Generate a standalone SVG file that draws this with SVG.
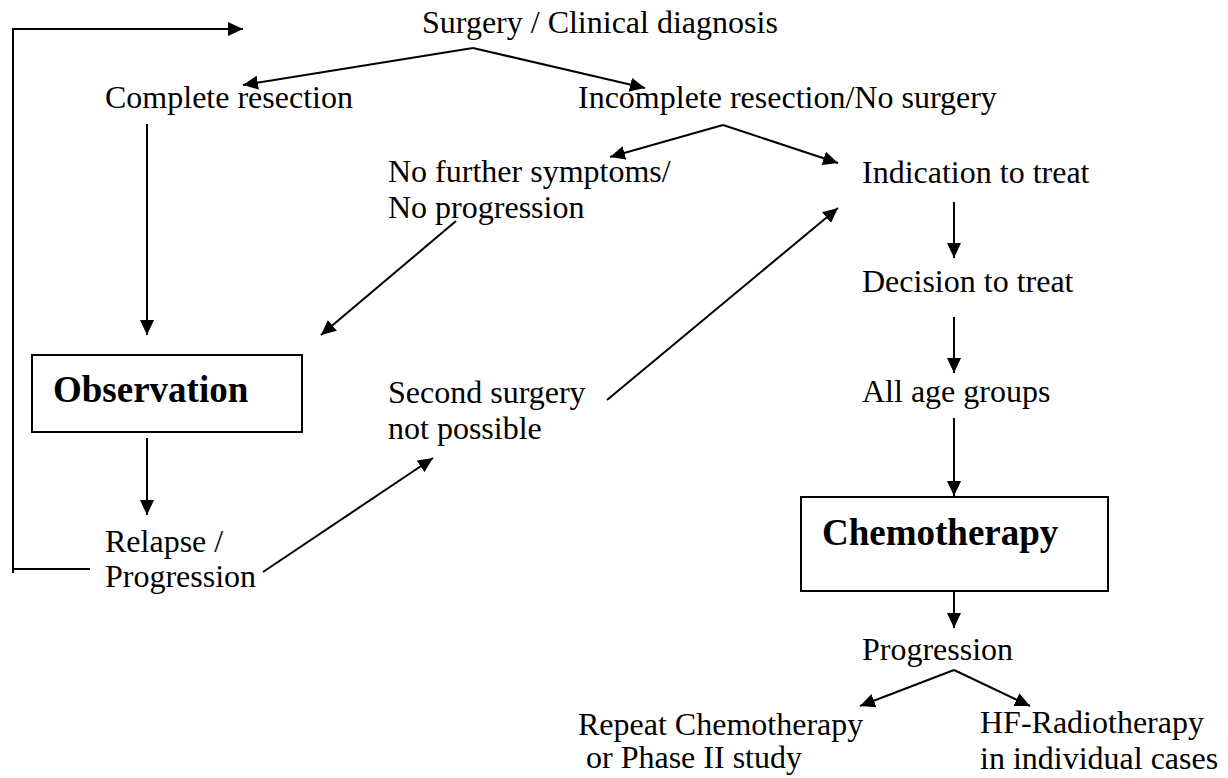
<svg xmlns="http://www.w3.org/2000/svg" width="1228" height="778" viewBox="0 0 1228 778">
<style>
text{font-family:"Liberation Serif","Times New Roman",serif;font-size:32px;fill:#000}
.b{font-weight:bold;font-size:37px}
.c line,.c polyline{stroke:#000;stroke-width:2;fill:none}
.box{fill:#fff;stroke:#000;stroke-width:2}
</style>
<defs>
<marker id="ah" markerUnits="userSpaceOnUse" markerWidth="16" markerHeight="14" refX="15" refY="7" orient="auto">
<path d="M0,0 L15,7 L0,14 z" fill="#000"/>
</marker>
</defs>
<rect width="1228" height="778" fill="#fff"/>
<g id="connectors" class="c">
<polyline points="90,569 13,569 13,29 243,29" marker-end="url(#ah)"/>
<line x1="13" y1="569" x2="13" y2="573"/>
<line x1="473" y1="48" x2="243" y2="85" marker-end="url(#ah)"/>
<line x1="473" y1="48" x2="645" y2="88" marker-end="url(#ah)"/>
<line x1="723" y1="125" x2="610" y2="157" marker-end="url(#ah)"/>
<line x1="723" y1="125" x2="838" y2="163" marker-end="url(#ah)"/>
<line x1="147" y1="124" x2="147" y2="335" marker-end="url(#ah)"/>
<line x1="456" y1="221" x2="321" y2="335" marker-end="url(#ah)"/>
<line x1="147" y1="438" x2="147" y2="515" marker-end="url(#ah)"/>
<line x1="263" y1="572" x2="433" y2="458" marker-end="url(#ah)"/>
<line x1="607" y1="400" x2="838" y2="208" marker-end="url(#ah)"/>
<line x1="954" y1="202" x2="954" y2="258" marker-end="url(#ah)"/>
<line x1="954" y1="317" x2="954" y2="373" marker-end="url(#ah)"/>
<line x1="954" y1="418" x2="954" y2="496" marker-end="url(#ah)"/>
<line x1="954" y1="591" x2="954" y2="628" marker-end="url(#ah)"/>
<line x1="954" y1="670" x2="860" y2="706" marker-end="url(#ah)"/>
<line x1="954" y1="670" x2="1030" y2="706" marker-end="url(#ah)"/>
</g>
<g id="surgery"><text x="422" y="33">Surgery / Clinical diagnosis</text></g>
<g id="complete"><text x="105" y="108">Complete resection</text></g>
<g id="incomplete"><text x="578" y="108">Incomplete resection/No surgery</text></g>
<g id="nofurther"><text x="388" y="182">No further symptoms/</text><text x="388" y="218">No progression</text></g>
<g id="indication"><text x="862" y="183">Indication to treat</text></g>
<g id="decision"><text x="862" y="292">Decision to treat</text></g>
<g id="allage"><text x="862" y="402">All age groups</text></g>
<g id="observation"><rect class="box" x="32" y="355" width="270" height="77"/><text class="b" x="53" y="402">Observation</text></g>
<g id="secondsurgery"><text x="388" y="403">Second surgery</text><text x="388" y="439">not possible</text></g>
<g id="relapse"><text x="105" y="552">Relapse /</text><text x="105" y="587">Progression</text></g>
<g id="chemotherapy"><rect class="box" x="801" y="497" width="307" height="94"/><text class="b" x="822" y="545">Chemotherapy</text></g>
<g id="progression"><text x="862" y="660">Progression</text></g>
<g id="repeat"><text x="578" y="735">Repeat Chemotherapy</text><text x="578" y="768" xml:space="preserve"> or Phase II study</text></g>
<g id="hf"><text x="980" y="733">HF-Radiotherapy</text><text x="980" y="769">in individual cases</text></g>
</svg>
